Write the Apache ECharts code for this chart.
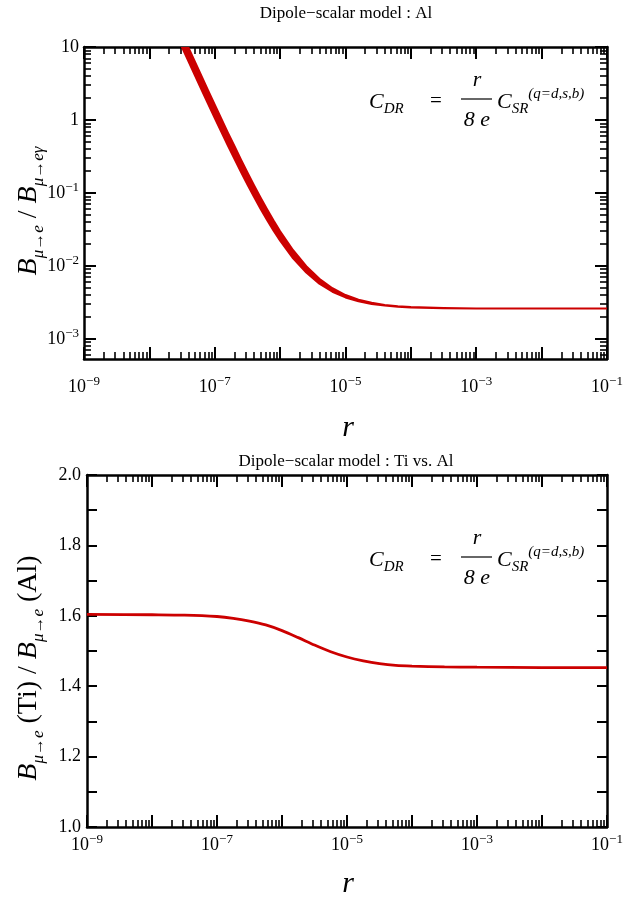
<!DOCTYPE html>
<html><head><meta charset="utf-8">
<script src="https://cdn.jsdelivr.net/npm/echarts@6/dist/echarts.min.js"></script>
<style>html,body{margin:0;padding:0;background:#fff}#c{width:624px;height:901px}</style>
</head><body><div id="c"></div>
<script>
// ---------- data ----------
const rTop = [2.51e-8, 3.16e-8, 3.98e-8, 5.01e-8, 6.31e-8, 7.94e-8, 1e-7, 1.26e-7, 1.58e-7, 2e-7, 2.51e-7, 3.16e-7, 3.98e-7, 5.01e-7, 6.31e-7, 7.94e-7, 1e-6, 1.58e-6, 2.51e-6, 3.98e-6, 6.31e-6, 1e-5, 1.58e-5, 2.51e-5, 3.98e-5, 6.31e-5, 1e-4, 3.16e-4, 1e-3, 1e-2, 1e-1];
const bandHigh = [24.1, 15.3, 9.71, 6.18, 3.94, 2.52, 1.62, 1.04, 0.674, 0.439, 0.288, 0.191, 0.128, 0.0867, 0.0597, 0.0419, 0.0299, 0.0164, 0.00991, 0.00667, 0.00495, 0.00399, 0.00345, 0.00312, 0.00292, 0.00280, 0.00273, 0.00264, 0.00261, 0.00260, 0.00260];
const bandLow = [15.6, 9.92, 6.32, 4.02, 2.57, 1.65, 1.06, 0.688, 0.448, 0.294, 0.195, 0.130, 0.0883, 0.0608, 0.0426, 0.0304, 0.0222, 0.0127, 0.00810, 0.00572, 0.00443, 0.00370, 0.00327, 0.00301, 0.00286, 0.00276, 0.00270, 0.00263, 0.00261, 0.00260, 0.00260];

const rBottom = [1e-9, 1e-8, 3.16e-8, 1e-7, 1.78e-7, 3.16e-7, 5.62e-7, 1e-6, 1.78e-6, 3.16e-6, 5.62e-6, 1e-5, 1.78e-5, 3.16e-5, 5.62e-5, 1e-4, 3.16e-4, 1e-3, 1e-2, 1e-1];
const ratioTiAl = [1.604, 1.603, 1.602, 1.598, 1.593, 1.585, 1.574, 1.558, 1.538, 1.517, 1.498, 1.483, 1.472, 1.464, 1.459, 1.457, 1.455, 1.454, 1.453, 1.453];

const xDecades = [1e-9, 1e-8, 1e-7, 1e-6, 1e-5, 1e-4, 1e-3, 1e-2, 1e-1];
const xLabelValues = [1e-9, 1e-7, 1e-5, 1e-3, 1e-1];
const yTopDecades = [1e-4, 1e-3, 1e-2, 1e-1, 1, 10];
const yTopLabelValues = [1e-3, 1e-2, 1e-1, 1, 10];
const yBottomTicks = [1.0, 1.1, 1.2, 1.3, 1.4, 1.5, 1.6, 1.7, 1.8, 1.9, 2.0];
const yBottomLabels = [1.0, 1.2, 1.4, 1.6, 1.8, 2.0];

const titleTop = 'Dipole\u2212scalar model : Al';
const titleBottom = 'Dipole\u2212scalar model : Ti vs. Al';

// ---------- style ----------
const SERIF = '"Liberation Serif","Times New Roman","DejaVu Serif",serif';
const RED = '#cc0000';
const BLACK = '#000';

function minorsOf(decades) {
  const out = [];
  decades.forEach(d => { for (let k = 2; k <= 9; k++) out.push(+(d * k).toPrecision(6)); });
  return out;
}
const xMinor = minorsOf(xDecades.slice(0, -1));
const yTopMinor = minorsOf(yTopDecades.slice(0, -1));

const supRich = {
  b: {fontFamily: SERIF, fontSize: 18, lineHeight: 24, color: BLACK},
  s: {fontFamily: SERIF, fontSize: 13, lineHeight: 12, verticalAlign: 'top', color: BLACK}
};
function powLabel(v) {
  const e = Math.round(Math.log10(v));
  if (e === 0) return '{b|1}';
  if (e === 1) return '{b|10}';
  return '{b|10}{s|' + (e < 0 ? '\u2212' : '') + Math.abs(e) + '}';
}

function logXAxes(grid, labelMargin) {
  const base = {type: 'log', logBase: 10, gridIndex: grid, min: 1e-9, max: 1e-1, splitLine: {show: false}, minorTick: {show: false}};
  const major = {show: true, inside: true, length: 12, customValues: xDecades, lineStyle: {color: BLACK, width: 2}};
  const minor = {show: true, inside: true, length: 7, customValues: xMinor, lineStyle: {color: BLACK, width: 1.6}};
  return [
    Object.assign({}, base, {position: 'bottom', axisLine: {show: true, lineStyle: {color: BLACK, width: 2.5}}, axisTick: major,
      axisLabel: {show: true, customValues: xLabelValues, margin: labelMargin, formatter: powLabel, rich: supRich, color: BLACK}}),
    Object.assign({}, base, {position: 'bottom', axisLine: {show: false}, axisTick: minor, axisLabel: {show: false}}),
    Object.assign({}, base, {position: 'top', axisLine: {show: true, lineStyle: {color: BLACK, width: 2.5}}, axisTick: major, axisLabel: {show: false}}),
    Object.assign({}, base, {position: 'top', axisLine: {show: false}, axisTick: minor, axisLabel: {show: false}})
  ];
}

function logYAxes() {
  const base = {type: 'log', logBase: 10, gridIndex: 0, min: 5.3e-4, max: 10, splitLine: {show: false}, minorTick: {show: false}};
  const major = {show: true, inside: true, length: 12, customValues: yTopDecades, lineStyle: {color: BLACK, width: 2}};
  const minor = {show: true, inside: true, length: 7, customValues: yTopMinor, lineStyle: {color: BLACK, width: 1.6}};
  return [
    Object.assign({}, base, {position: 'left', axisLine: {show: true, lineStyle: {color: BLACK, width: 2.5}}, axisTick: major,
      axisLabel: {show: true, customValues: yTopLabelValues, margin: 5, formatter: powLabel, rich: supRich, color: BLACK}}),
    Object.assign({}, base, {position: 'left', axisLine: {show: false}, axisTick: minor, axisLabel: {show: false}}),
    Object.assign({}, base, {position: 'right', axisLine: {show: true, lineStyle: {color: BLACK, width: 2.5}}, axisTick: major, axisLabel: {show: false}}),
    Object.assign({}, base, {position: 'right', axisLine: {show: false}, axisTick: minor, axisLabel: {show: false}})
  ];
}

function linYAxes() {
  const base = {type: 'value', gridIndex: 1, min: 1.0, max: 2.0, splitLine: {show: false}};
  const tick = {show: true, inside: true, length: 10, customValues: yBottomTicks, lineStyle: {color: BLACK, width: 2}};
  return [
    Object.assign({}, base, {position: 'left', axisLine: {show: true, lineStyle: {color: BLACK, width: 2.5}}, axisTick: tick,
      axisLabel: {show: true, customValues: yBottomLabels, margin: 6, formatter: v => v.toFixed(1), fontFamily: SERIF, fontSize: 18, color: BLACK}}),
    Object.assign({}, base, {position: 'right', axisLine: {show: true, lineStyle: {color: BLACK, width: 2.5}}, axisTick: tick, axisLabel: {show: false}})
  ];
}

const xAxes = logXAxes(0, 16).concat(logXAxes(1, 6));
const yAxes = logYAxes().concat(linYAxes());

// ---------- text graphics ----------
function txt(text, x, y, size, italic, align) {
  return {type: 'text', x: x, y: y, silent: true,
    style: {text: text, fontFamily: SERIF, fontSize: size, fontStyle: italic ? 'italic' : 'normal', fill: BLACK,
      align: align || 'center', verticalAlign: 'middle'}};
}
const annRich = {
  C: {fontFamily: SERIF, fontSize: 22, fontStyle: 'italic', lineHeight: 30, color: BLACK},
  s: {fontFamily: SERIF, fontSize: 15, fontStyle: 'italic', lineHeight: 13, verticalAlign: 'bottom', color: BLACK},
  p: {fontFamily: SERIF, fontSize: 15, fontStyle: 'italic', lineHeight: 13, verticalAlign: 'top', color: BLACK}
};
function annotation(dy) {
  return {type: 'group', silent: true, children: [
    {type: 'text', x: 369, y: 102 + dy, style: {text: '{C|C}{s|DR}', rich: annRich, align: 'left', verticalAlign: 'middle'}},
    txt('=', 436, 101 + dy, 21, false),
    txt('r', 477, 80 + dy, 22, true),
    {type: 'line', shape: {x1: 461, y1: 99 + dy, x2: 492, y2: 99 + dy}, style: {stroke: BLACK, lineWidth: 1.2}},
    txt('8 e', 477, 120 + dy, 22, true),
    {type: 'text', x: 497, y: 102 + dy, style: {text: '{C|C}{s|SR}{p|(q=d,s,b)}', rich: annRich, align: 'left', verticalAlign: 'middle'}}
  ]};
}
const yRich = {
  B: {fontFamily: SERIF, fontSize: 28, fontStyle: 'italic', lineHeight: 36, color: BLACK},
  s: {fontFamily: SERIF, fontSize: 17, fontStyle: 'italic', lineHeight: 15, verticalAlign: 'bottom', color: BLACK},
  n: {fontFamily: SERIF, fontSize: 28, lineHeight: 36, color: BLACK}
};
function yTitle(text, x, y) {
  return {type: 'text', x: x, y: y, rotation: Math.PI / 2, silent: true,
    style: {text: text, rich: yRich, align: 'center', verticalAlign: 'middle'}};
}

const graphics = [
  txt(titleTop, 346, 14, 17, false),
  txt(titleBottom, 346, 462, 17, false),
  txt('r', 348, 428, 30, true),
  txt('r', 348, 884, 30, true),
  yTitle('{B|B}{s|\u03bc\u2192e}{n| / }{B|B}{s|\u03bc\u2192e\u03b3}', 29, 211),
  yTitle('{B|B}{s|\u03bc\u2192e}{n| (Ti) / }{B|B}{s|\u03bc\u2192e}{n| (Al)}', 29, 668),
  annotation(0),
  annotation(458)
];

// ---------- chart ----------
const chart = echarts.init(document.getElementById('c'), null, {renderer: 'canvas'});
chart.setOption({
  animation: false,
  backgroundColor: '#fff',
  grid: [
    {left: 84, right: 17, top: 47, height: 312, containLabel: false, outerBoundsMode: 'none'},
    {left: 87, right: 17, top: 475, height: 352, containLabel: false, outerBoundsMode: 'none'}
  ],
  xAxis: xAxes,
  yAxis: yAxes,
  series: [
    {
      type: 'custom', xAxisIndex: 0, yAxisIndex: 0, clip: true,
      data: rTop.map((r, i) => [r, bandLow[i], bandHigh[i]]),
      encode: {x: 0, y: [1, 2]},
      renderItem: function (params, api) {
        if (params.dataIndex !== 0) return null;
        const pts = [];
        for (let i = 0; i < rTop.length; i++) pts.push(api.coord([rTop[i], bandHigh[i]]));
        for (let i = rTop.length - 1; i >= 0; i--) pts.push(api.coord([rTop[i], bandLow[i]]));
        return {type: 'polygon', shape: {points: pts}, style: {fill: RED, stroke: RED, lineWidth: 2, lineJoin: 'round'}};
      }
    },
    {
      type: 'line', xAxisIndex: 4, yAxisIndex: 4, showSymbol: false, smooth: 0.3, clip: true,
      data: rBottom.map((r, i) => [r, ratioTiAl[i]]),
      lineStyle: {color: RED, width: 2.8}
    }
  ],
  graphic: graphics
});
</script>
</body></html>
